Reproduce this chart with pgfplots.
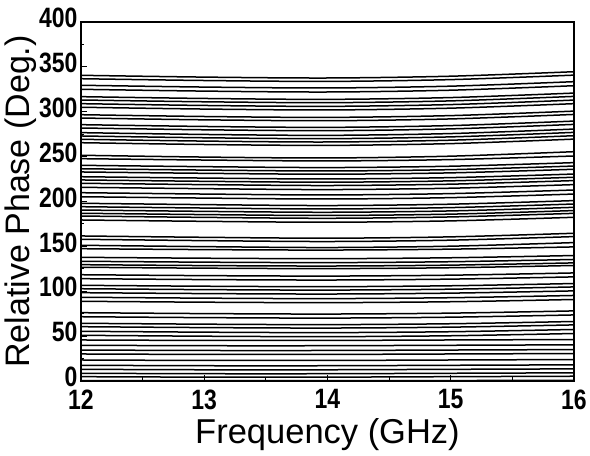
\documentclass[border=0pt]{standalone}
\usepackage{fontspec}
\setmainfont{Liberation Sans}
\newfontfamily\tickfont[FakeStretch=0.82]{Liberation Sans}
\usepackage{pgfplots}
\pgfplotsset{compat=1.18}
\begin{document}
\begin{tikzpicture}
\begin{axis}[
  name=ax,
  scale only axis,
  width=493pt, height=359pt,
  xmin=12, xmax=16, ymin=0, ymax=400,
  xtick={12,13,14,15,16},
  ytick={0,50,100,150,200,250,300,350,400},
  minor x tick num=1, minor y tick num=1,
  tick align=inside,
  xtick pos=bottom, ytick pos=left,
  major tick length=6pt, minor tick length=3.5pt,
  every tick/.style={black, line width=1pt},
  axis line style={black, line width=1.6pt},
  /pgf/number format/assume math mode=true,
  ticklabel style={font=\tickfont\fontsize{28}{28}\selectfont\bfseries},
  xticklabel style={yshift=-5pt},
  yticklabel style={yshift=4pt, xshift=0pt},
  xlabel={Frequency (GHz)},
  ylabel={Relative Phase (Deg.)},
  every axis x label/.style={at={(axis description cs:0.5,-0.1755)}, anchor=base, font=\fontsize{34.5}{40}\selectfont},
  every axis y label/.style={at={(axis description cs:-0.104,0.5)}, rotate=90, anchor=base, font=\fontsize{34}{40}\selectfont},
  cycle list={{black, solid, line width=1.5pt}},
  every axis plot/.append style={black, solid, line width=1.5pt, smooth, no markers},
]
% 250+ group
\addplot coordinates {(12,340.6)(13,338.6)(14,337.6)(15,339.6)(16,344.6)};
\addplot coordinates {(12,336.8)(13,334.8)(14,333.8)(15,335.8)(16,340.8)};
\addplot coordinates {(12,329.5)(13,327.5)(14,326.5)(15,328.5)(16,333.5)};
\addplot coordinates {(12,325.0)(13,323.0)(14,322.0)(15,324.0)(16,329.0)};
\addplot coordinates {(12,316.8)(13,314.8)(14,313.8)(15,315.8)(16,320.8)};
\addplot coordinates {(12,313.1)(13,311.1)(14,310.1)(15,312.1)(16,317.1)};
\addplot coordinates {(12,309.0)(13,307.0)(14,306.0)(15,308.0)(16,313.0)};
\addplot coordinates {(12,305.0)(13,303.0)(14,302.0)(15,304.0)(16,309.0)};
\addplot coordinates {(12,296.7)(13,294.7)(14,293.7)(15,295.7)(16,300.7)};
\addplot coordinates {(12,293.0)(13,291.0)(14,290.0)(15,292.0)(16,297.0)};
\addplot coordinates {(12,285.6)(13,283.6)(14,282.6)(15,284.6)(16,289.6)};
\addplot coordinates {(12,281.9)(13,279.9)(14,278.9)(15,280.9)(16,285.9)};
\addplot coordinates {(12,276.7)(13,274.7)(14,273.7)(15,275.7)(16,280.7)};
\addplot coordinates {(12,273.0)(13,271.0)(14,270.0)(15,272.0)(16,277.0)};
\addplot coordinates {(12,269.3)(13,267.3)(14,266.3)(15,268.3)(16,273.3)};
\addplot coordinates {(12,265.5)(13,263.5)(14,262.5)(15,264.5)(16,269.5)};
\addplot coordinates {(12,251.5)(13,249.5)(14,248.5)(15,250.5)(16,255.5)};
% 150-250 group
\addplot coordinates {(12,247.7)(13,246.2)(14,245.2)(15,246.7)(16,250.7)};
\addplot coordinates {(12,240.3)(13,238.8)(14,237.8)(15,239.3)(16,243.3)};
\addplot coordinates {(12,236.5)(13,235.0)(14,234.0)(15,235.5)(16,239.5)};
\addplot coordinates {(12,232.9)(13,231.4)(14,230.4)(15,231.9)(16,235.9)};
\addplot coordinates {(12,227.6)(13,226.1)(14,225.1)(15,226.6)(16,230.6)};
\addplot coordinates {(12,224.0)(13,222.5)(14,221.5)(15,223.0)(16,227.0)};
\addplot coordinates {(12,220.3)(13,218.8)(14,217.8)(15,219.3)(16,223.3)};
\addplot coordinates {(12,215.8)(13,214.3)(14,213.3)(15,214.8)(16,218.8)};
\addplot coordinates {(12,209.8)(13,208.3)(14,207.3)(15,208.8)(16,212.8)};
\addplot coordinates {(12,205.3)(13,203.8)(14,202.8)(15,204.3)(16,208.3)};
\addplot coordinates {(12,198.0)(13,196.5)(14,195.5)(15,197.0)(16,201.0)};
\addplot coordinates {(12,194.2)(13,192.7)(14,191.7)(15,193.2)(16,197.2)};
\addplot coordinates {(12,190.5)(13,189.0)(14,188.0)(15,189.5)(16,193.5)};
\addplot coordinates {(12,186.9)(13,185.4)(14,184.4)(15,185.9)(16,189.9)};
\addplot coordinates {(12,183.8)(13,182.3)(14,181.3)(15,182.8)(16,186.8)};
\addplot coordinates {(12,179.4)(13,177.9)(14,176.9)(15,178.4)(16,182.4)};
\addplot coordinates {(12,161.6)(13,160.1)(14,159.1)(15,160.6)(16,164.6)};
\addplot coordinates {(12,157.9)(13,156.4)(14,155.4)(15,156.9)(16,160.9)};
\addplot coordinates {(12,151.2)(13,149.7)(14,148.7)(15,150.2)(16,154.2)};
% 50-150 group
\addplot coordinates {(12,147.4)(13,146.4)(14,145.9)(15,146.9)(16,149.4)};
\addplot coordinates {(12,137.8)(13,136.8)(14,136.3)(15,137.3)(16,139.8)};
\addplot coordinates {(12,133.4)(13,132.4)(14,131.9)(15,132.9)(16,135.4)};
\addplot coordinates {(12,129.6)(13,128.6)(14,128.1)(15,129.1)(16,131.6)};
\addplot coordinates {(12,126.7)(13,125.7)(14,125.2)(15,126.2)(16,128.7)};
\addplot coordinates {(12,118.4)(13,117.4)(14,116.9)(15,117.9)(16,120.4)};
\addplot coordinates {(12,114.0)(13,113.0)(14,112.5)(15,113.5)(16,116.0)};
\addplot coordinates {(12,106.6)(13,105.6)(14,105.1)(15,106.1)(16,108.6)};
\addplot coordinates {(12,102.8)(13,101.8)(14,101.3)(15,102.3)(16,104.8)};
\addplot coordinates {(12,98.4)(13,97.4)(14,96.9)(15,97.9)(16,100.4)};
\addplot coordinates {(12,93.3)(13,92.3)(14,91.8)(15,92.8)(16,95.3)};
\addplot coordinates {(12,88.8)(13,87.8)(14,87.3)(15,88.3)(16,90.8)};
\addplot coordinates {(12,76.1)(13,75.1)(14,74.6)(15,75.6)(16,78.1)};
\addplot coordinates {(12,71.6)(13,70.6)(14,70.1)(15,71.1)(16,73.6)};
\addplot coordinates {(12,64.3)(13,63.3)(14,62.8)(15,63.8)(16,66.3)};
\addplot coordinates {(12,60.5)(13,59.5)(14,59.0)(15,60.0)(16,62.5)};
\addplot coordinates {(12,55.4)(13,54.4)(14,53.9)(15,54.9)(16,57.4)};
\addplot coordinates {(12,50.9)(13,49.9)(14,49.4)(15,50.4)(16,52.9)};
% 0-50 group
\addplot coordinates {(12,45.7)(13,45.2)(14,45.2)(15,45.7)(16,46.2)};
\addplot coordinates {(12,39.8)(13,39.3)(14,39.3)(15,39.8)(16,40.3)};
\addplot coordinates {(12,34.5)(13,34.0)(14,34.0)(15,34.5)(16,35.0)};
\addplot coordinates {(12,30.1)(13,29.6)(14,29.6)(15,30.1)(16,30.6)};
\addplot coordinates {(12,23.4)(13,22.9)(14,22.9)(15,23.4)(16,23.9)};
\addplot coordinates {(12,17.5)(13,17.0)(14,17.0)(15,17.5)(16,18.0)};
\addplot coordinates {(12,13.0)(13,12.5)(14,12.5)(15,13.0)(16,13.5)};
\addplot coordinates {(12,8.6)(13,8.1)(14,8.1)(15,8.6)(16,9.1)};
\addplot coordinates {(12,4.8)(13,4.3)(14,4.3)(15,4.8)(16,5.3)};
\addplot coordinates {(12,0.5)(13,0.5)(14,0.5)(15,0.5)(16,0.8)};
\end{axis}
\pgfresetboundingbox
\path ([xshift=-81pt,yshift=-75pt]ax.south west) rectangle ([xshift=16pt,yshift=22pt]ax.north east);
\end{tikzpicture}
\end{document}
